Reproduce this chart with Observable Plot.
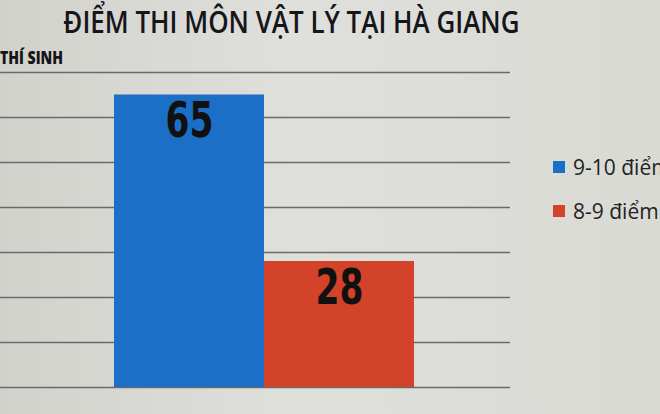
<!DOCTYPE html>
<html><head><meta charset="utf-8">
<script src="https://cdn.jsdelivr.net/npm/d3@7"></script>
<script src="https://cdn.jsdelivr.net/npm/@observablehq/plot@0.6"></script>
<style>
html,body{margin:0;padding:0;}
body{width:660px;height:414px;overflow:hidden;position:relative;
 background:linear-gradient(90deg,#d2d2cd 0%,#dfdfdb 45%,#dadad5 100%);}
#title{position:absolute;left:0;width:583px;top:1px;text-align:center;font-family:"Open Sans",sans-serif;font-weight:600;font-size:30px;color:#15151a;white-space:nowrap;transform:scaleX(0.865);transform-origin:291px 0;}
#ylab{position:absolute;left:0;top:45px;font-family:"Open Sans",sans-serif;font-weight:800;font-size:18px;color:#151515;transform:scaleX(0.78);transform-origin:0 0;white-space:nowrap;}
#legend{position:absolute;left:553px;top:145px;font-family:"Open Sans",sans-serif;font-size:21px;color:#222;white-space:nowrap;}
#legend div{height:44px;display:flex;align-items:center;}
#legend span.sw{display:inline-block;width:12px;height:12px;margin-right:8px;}
#chart{position:absolute;left:0;top:0;}
</style></head>
<body>
<div id="chart"></div>
<div id="title"></div>
<div id="ylab"></div>
<div id="legend"></div>
<script>
const titleText = "ĐIỂM THI MÔN VẬT LÝ TẠI HÀ GIANG";
const yLabel = "THÍ SINH";
const categories = ["9-10 điểm", "8-9 điểm"];
const values = [65, 28];
const colors = ["#1b6fc6", "#d3432a"];
const yTicks = [0, 10, 20, 30, 40, 50, 60, 70];

document.getElementById("title").textContent = titleText;
document.getElementById("ylab").textContent = yLabel;
const leg = document.getElementById("legend");
categories.forEach((c, i) => {
  const d = document.createElement("div");
  const s = document.createElement("span"); s.className = "sw"; s.style.background = colors[i];
  d.appendChild(s); d.appendChild(document.createTextNode(c));
  leg.appendChild(d);
});

const data = categories.map((c, i) => ({cat: c, value: values[i]}));

const chart = Plot.plot({
  width: 660, height: 414,
  marginLeft: 0, marginRight: 150, marginTop: 72, marginBottom: 27,
  style: {background: "transparent", overflow: "visible"},
  x: {domain: categories, paddingInner: 0, paddingOuter: 0.7, align: 0.543, axis: null},
  y: {domain: [0, 70], axis: null},
  color: {domain: categories, range: colors},
  marks: [
    Plot.ruleY(yTicks, {stroke: "#6a6a68", strokeWidth: 1.3}),
    Plot.barY(data, {x: "cat", y: "value", fill: "cat"}),
    Plot.text(data, {x: "cat", y: "value", text: d => String(d.value), dy: 26, fill: "#111",
      fontSize: 50, fontWeight: 900, fontFamily: "DejaVu Sans, sans-serif"})
  ]
});
chart.querySelectorAll("text").forEach(t => {
  t.setAttribute("textLength", "48");
  t.setAttribute("lengthAdjust", "spacingAndGlyphs");
});
document.getElementById("chart").appendChild(chart);
</script>
</body></html>
